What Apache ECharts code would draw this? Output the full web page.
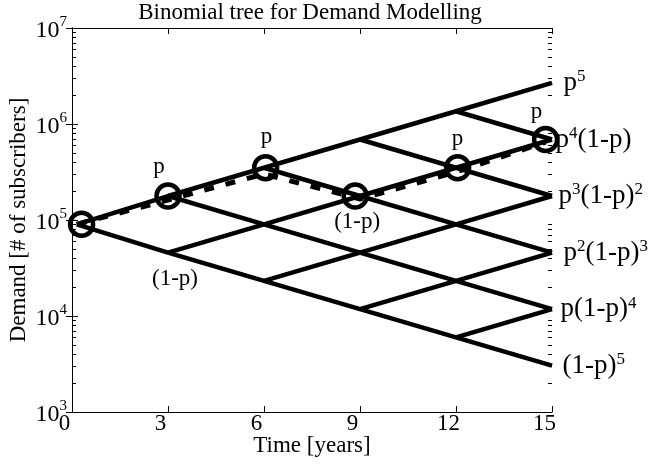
<!DOCTYPE html>
<html>
<head>
<meta charset="utf-8">
<script src="https://cdn.jsdelivr.net/npm/echarts@6/dist/echarts.min.js"></script>
<style>html,body{margin:0;padding:0;background:#fff}#c{width:650px;height:464px}</style>
</head>
<body>
<div id="c"></div>
<script>
// ---- data ----
const titleText = 'Binomial tree for Demand Modelling';
const xName = 'Time [years]';
const yName = 'Demand [# of subscribers]';
const xTicks = [0, 3, 6, 9, 12, 15];
const yMin = 1000, yMax = 10000000;
const yMinorTicks = [2e3,3e3,4e3,5e3,6e3,7e3,8e3,9e3,2e4,3e4,4e4,5e4,6e4,7e4,8e4,9e4,2e5,3e5,4e5,5e5,6e5,7e5,8e5,9e5,2e6,3e6,4e6,5e6,6e6,7e6,8e6,9e6];
// tree node times and values (bottom to top at each step)
const stepTimes = [0.15, 3, 6, 9, 12, 15];
const step0 = [90200];
const step1 = [45800, 177700];
const step2 = [23200, 90200, 350000];
const step3 = [11800, 45800, 177700, 689600];
const step4 = [6000, 23200, 90200, 350000, 1358000];
const step5 = [3040, 11800, 45800, 177700, 689600, 2676000];
// highlighted path (circles)
const pathTimes = [0.3, 3, 6.05, 8.85, 12.05, 14.8];
const pathValues = [90200, 177700, 350000, 177700, 350000, 689600];
const pathLabels = ['', 'p', 'p', '(1-p)', 'p', 'p'];
// dashed realised path
const dashTimes = [0.15, 3, 6, 9, 12, 14.8];
const dashValues = [90200, 161600, 301600, 165600, 316000, 649000];
// extra node label
const downTime = 3, downValue = 45800, downLabel = '(1-p)';
// end-node probabilities (bottom to top)
const endLabels = ['{b|(1-p)}{s|5}', '{b|p(1-p)}{s|4}', '{b|p}{s|2}{b|(1-p)}{s|3}', '{b|p}{s|3}{b|(1-p)}{s|2}', '{b|p}{s|4}{b|(1-p)}', '{b|p}{s|5}'];

// ---- chart ----
const FONT = "'Liberation Serif','Times New Roman',serif";
const FS = 23;
const endRich = {
  b: {fontFamily: FONT, fontSize: 27, color: '#000', verticalAlign: 'middle'},
  s: {fontFamily: FONT, fontSize: 17, color: '#000', verticalAlign: 'middle', padding: [0, 0, 12, 0]}
};
const yRich = {
  b: {fontFamily: FONT, fontSize: 24, color: '#000', verticalAlign: 'middle', padding: [5, 0, 0, 0]},
  s: {fontFamily: FONT, fontSize: 15, color: '#000', verticalAlign: 'middle', padding: [0, 0, 12, 0]}
};
const xRich = {
  a: {fontFamily: FONT, fontSize: FS, color: '#000', padding: [0, 15, 0, 0]}
};
const nodes = [step0, step1, step2, step3, step4, step5];
const series = [];
const lineStyle = {color: '#000', width: 4.5};
for (let k = 0; k < 5; k++) {
  const up = [], down = [];
  for (let m = 0; k + m <= 5; m++) {
    up.push([stepTimes[k + m], nodes[k + m][m]]);
    down.push([stepTimes[k + m], nodes[k + m][k]]);
  }
  [up, down].forEach(d => series.push({
    type: 'line', data: d, symbol: 'none', lineStyle: lineStyle, silent: true, z: 2, xAxisIndex: 0, yAxisIndex: 0
  }));
}
series.push({
  type: 'line', data: dashTimes.map((t, i) => [t, dashValues[i]]), symbol: 'none', z: 3,
  lineStyle: {color: '#000', width: 5, type: [10, 12]}, xAxisIndex: 0, yAxisIndex: 0
});
const labelOffsets = [[0,0],[-9,-2],[1,-4],[2,0],[0,-2],[-9,0]];
const labelDist = [2, 2, 2, 1, 2, 2];
series.push({
  type: 'scatter', clip: false, z: 4, xAxisIndex: 0, yAxisIndex: 0,
  symbol: 'circle', symbolSize: 23,
  itemStyle: {color: 'rgba(0,0,0,0)', borderColor: '#000', borderWidth: 4.5, opacity: 1},
  data: pathTimes.map((t, i) => ({
    value: [t, pathValues[i]],
    label: {
      show: pathLabels[i] !== '', formatter: pathLabels[i],
      position: pathLabels[i] === 'p' ? 'top' : 'bottom', distance: labelDist[i],
      offset: labelOffsets[i],
      fontFamily: FONT, fontSize: FS, color: '#000'
    }
  }))
});
series.push({
  type: 'scatter', clip: false, z: 4, symbolSize: 1, itemStyle: {color: 'rgba(0,0,0,0)', opacity: 1}, xAxisIndex: 0, yAxisIndex: 0,
  data: [{value: [downTime, downValue], label: {show: true, formatter: downLabel, position: 'bottom', distance: 14, offset: [7, 0], fontFamily: FONT, fontSize: FS, color: '#000'}}]
});
const endDist = [10, 8, 11, 6, 3, 11];
series.push({
  type: 'scatter', clip: false, z: 4, symbolSize: 1, itemStyle: {color: 'rgba(0,0,0,0)', opacity: 1}, xAxisIndex: 0, yAxisIndex: 0,
  data: step5.map((v, i) => ({
    value: [stepTimes[5], v],
    label: {show: true, position: 'right', distance: endDist[i], formatter: endLabels[i], rich: endRich}
  }))
});

const tickCommon = {show: true, inside: true, length: 6, lineStyle: {color: '#000', width: 1}};
const minorTick = {show: true, inside: true, length: 4, lineStyle: {color: '#000', width: 1}, customValues: yMinorTicks.map(v => Math.log10(v))};
const axisLine = {show: true, lineStyle: {color: '#000', width: 1}};
const option = {
  animation: false,
  backgroundColor: '#fff',
  title: {
    text: titleText, left: 310, top: 1, textAlign: 'center', padding: 0,
    textStyle: {fontFamily: FONT, fontSize: FS, fontWeight: 'normal', color: '#000'}
  },
  grid: {left: 72, right: 98, top: 28, bottom: 52, containLabel: false, outerBoundsMode: 'none'},
  xAxis: [
    {type: 'value', min: 0, max: 15, interval: 3, position: 'bottom',
     axisLine: axisLine, axisTick: tickCommon, splitLine: {show: false},
     axisLabel: {show: true, margin: 0, formatter: v => '{a|' + v + '}', rich: xRich, customValues: xTicks},
     name: xName, nameLocation: 'middle', nameGap: 22, nameMoveOverlap: false,
     nameTextStyle: {fontFamily: FONT, fontSize: FS, color: '#000'}},
    {type: 'value', min: 0, max: 15, interval: 3, position: 'top',
     axisLine: axisLine, axisTick: tickCommon, splitLine: {show: false}, axisLabel: {show: false}}
  ],
  yAxis: [
    {type: 'log', logBase: 10, min: yMin, max: yMax, position: 'left',
     axisLine: axisLine, axisTick: tickCommon, splitLine: {show: false}, minorTick: {show: false},
     axisLabel: {show: true, margin: 5, formatter: v => '{b|10}{s|' + Math.round(Math.log10(v)) + '}', rich: yRich},
     name: yName, nameLocation: 'middle', nameGap: 42, nameRotate: 90, nameMoveOverlap: false,
     nameTextStyle: {fontFamily: FONT, fontSize: FS, color: '#000'}},
    {type: 'log', logBase: 10, min: yMin, max: yMax, position: 'right',
     axisLine: axisLine, axisTick: tickCommon, splitLine: {show: false}, axisLabel: {show: false}},
    {type: 'value', min: 3, max: 7, position: 'left', offset: 0, splitLine: {show: false}, axisLine: {show: false, onZero: false},
     axisLabel: {show: false}, axisTick: minorTick},
    {type: 'value', min: 3, max: 7, position: 'right', offset: 0, splitLine: {show: false}, axisLine: {show: false, onZero: false},
     axisLabel: {show: false}, axisTick: minorTick}
  ],
  series: series
};
const chart = echarts.init(document.getElementById('c'), null, {renderer: 'canvas'});
chart.setOption(option);
</script>
</body>
</html>
